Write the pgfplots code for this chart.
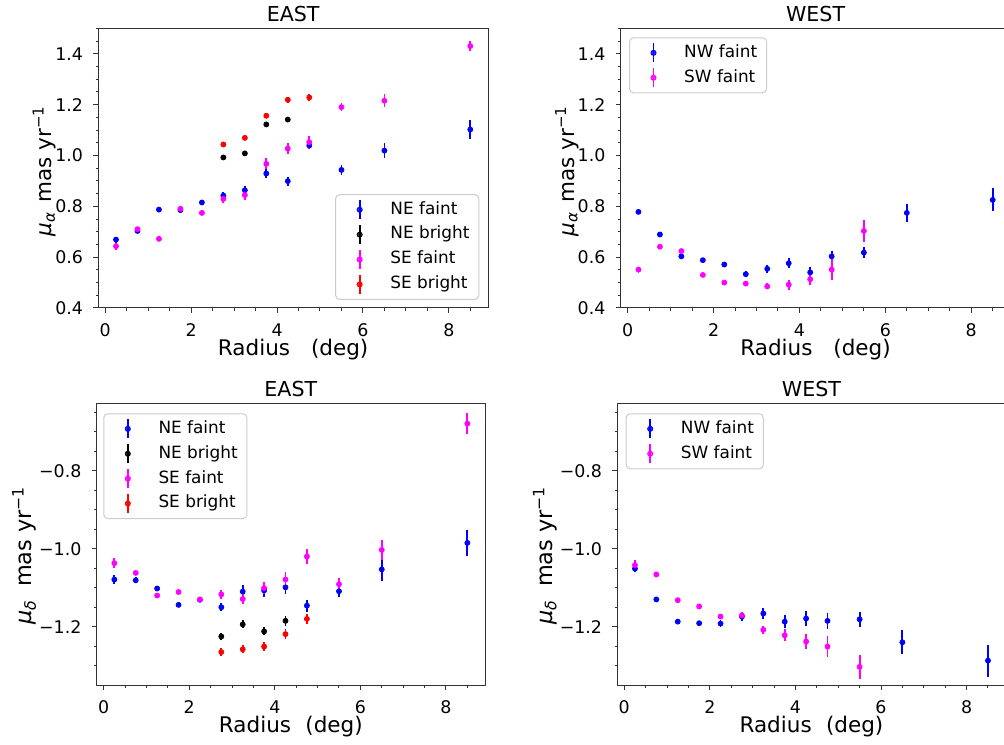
\documentclass[border=0pt]{standalone}
\usepackage{pgfplots}
\pgfplotsset{compat=1.18}
\usepackage{fontspec}
\setmainfont{DejaVu Sans}
\definecolor{mblue}{RGB}{0,0,255}
\definecolor{mmag}{RGB}{255,0,255}
\definecolor{mred}{RGB}{255,0,0}
\definecolor{mblack}{RGB}{0,0,0}

\pgfplotsset{
  base/.style={
    scale only axis, width=194.85pt, height=139.85pt,
    xmin=-0.1625, xmax=8.9125,
    axis line style={black!80, line width=0.5pt},
    tick align=outside, tick pos=left,
    xtick={0,2,4,6,8}, xticklabels={0,2,4,6,8},
    minor xtick={0.5,1,...,8.5},
    major tick length=2.45pt, minor tick length=1.4pt,
    every tick/.append style={black!80, line width=0.5pt},
    tick label style={font=\fontsize{8.7}{10}\selectfont, inner sep=0pt},
    xticklabel style={anchor=north, yshift=-5.15pt},
    yticklabel style={anchor=east, xshift=-5pt},
    every axis title/.style={font=\fontsize{10.3}{12}\selectfont, at={(0.5,1)}, anchor=base, yshift=3.3pt},
    every axis x label/.style={font=\fontsize{10.75}{12}\selectfont, at={(0.5,0)}, anchor=base, yshift=-23.85pt},
    legend style={draw=black!20, line width=0.5pt, fill=white, fill opacity=0.8, text opacity=1, draw opacity=1,
      rounded corners=2pt, font=\fontsize{8.45}{10}\selectfont, inner xsep=1.85pt, inner ysep=1.3pt, row sep=0pt,
      nodes={inner xsep=2.8pt, inner ysep=2pt, text height=6.4pt, text depth=2.05pt}},
    legend cell align=left,
    legend image code/.code={
      \path (0pt,0pt) (22.2pt,0pt);
      \draw[line width=0.9pt] (9.9pt,-4.8pt) -- (9.9pt,4.8pt);
      \fill (9.9pt,0pt) circle (1.25pt);
    },
  },
  topax/.style={base, height=139.85pt, ymin=0.4, ymax=1.5,
    ytick={0.4,0.6,0.8,1.0,1.2,1.4}, yticklabels={0.4,0.6,0.8,1.0,1.2,1.4},
    minor ytick={0.45,0.5,...,1.5},
    ylabel={\textit{μ}\textsubscript{\textit{α}}\hspace{4.6pt}mas yr\textsuperscript{−1}},
    xlabel={Radius\hspace{10.5pt}(deg)},
    every axis y label/.style={font=\fontsize{10.75}{12}\selectfont, at={(-0.1196,0.49)}, anchor=base, rotate=90},
  },
  botax/.style={base, height=140.85pt, width=194.15pt, ymin=-1.3495, ymax=-0.627,
    ytick={-1.2,-1.0,-0.8}, yticklabels={−1.2,−1.0,−0.8},
    minor ytick={-1.35,-1.3,...,-0.65},
    ylabel={\textit{μ}\textsubscript{\textit{δ}}\hspace{6.5pt}mas yr\textsuperscript{−1}},
    xlabel={Radius\hspace{7.2pt}(deg)},
    every axis y label/.style={font=\fontsize{11.2}{12}\selectfont, at={(-0.1674,0.46)}, anchor=base, rotate=90},
  },
  pts/.style={only marks, mark=*, mark size=1.25pt, color=#1, mark options={draw=none, fill=#1},
    error bars/.cd, y dir=both, y explicit, error mark=none, error bar style={line width=0.9pt, color=#1}},
}

\begin{document}
\begin{tikzpicture}

% ---------------- top left: EAST mu_alpha
\begin{axis}[topax, at={(49.15pt,218pt)}, anchor=south west, title={EAST},
  legend style={at={(1,0)}, anchor=south east, xshift=-4.35pt, yshift=4pt}]
\addplot[pts=mblue] table[x=x,y=y,y error=e] {
x y e
0.25 0.669 0.012
0.75 0.703 0.008
1.25 0.787 0.006
1.75 0.785 0.008
2.25 0.815 0.008
2.75 0.842 0.015
3.25 0.863 0.018
3.75 0.929 0.018
4.25 0.899 0.018
4.75 1.039 0.015
5.5 0.943 0.018
6.5 1.019 0.030
8.5 1.102 0.036
};
\addlegendentry{NE faint}
\addplot[pts=mblack] table[x=x,y=y,y error=e] {
x y e
2.75 0.992 0.010
3.25 1.008 0.010
3.75 1.122 0.010
4.25 1.141 0.010
};
\addlegendentry{NE bright}
\addplot[pts=mmag] table[x=x,y=y,y error=e] {
x y e
0.25 0.643 0.013
0.75 0.710 0.008
1.25 0.672 0.006
1.75 0.790 0.006
2.25 0.774 0.010
2.75 0.829 0.015
3.25 0.844 0.018
3.75 0.967 0.022
4.25 1.027 0.020
4.75 1.052 0.025
5.5 1.190 0.015
6.5 1.215 0.025
8.5 1.430 0.020
};
\addlegendentry{SE faint}
\addplot[pts=mred] table[x=x,y=y,y error=e] {
x y e
2.75 1.043 0.010
3.25 1.069 0.010
3.75 1.156 0.010
4.25 1.219 0.012
4.75 1.228 0.014
};
\addlegendentry{SE bright}
\end{axis}

% ---------------- top right: WEST mu_alpha
\begin{axis}[topax, at={(310.35pt,218pt)}, anchor=south west, title={WEST},
  legend style={at={(0,1)}, anchor=north west, xshift=4.15pt, yshift=-4.5pt}]
\addplot[pts=mblue] table[x=x,y=y,y error=e] {
x y e
0.25 0.778 0.010
0.75 0.689 0.006
1.25 0.603 0.006
1.75 0.588 0.008
2.25 0.571 0.010
2.75 0.533 0.012
3.25 0.554 0.015
3.75 0.576 0.020
4.25 0.540 0.020
4.75 0.603 0.022
5.5 0.618 0.020
6.5 0.774 0.036
8.5 0.825 0.045
};
\addlegendentry{NW faint}
\addplot[pts=mmag] table[x=x,y=y,y error=e] {
x y e
0.25 0.551 0.012
0.75 0.641 0.006
1.25 0.624 0.008
1.75 0.530 0.006
2.25 0.500 0.006
2.75 0.496 0.010
3.25 0.485 0.012
3.75 0.492 0.020
4.25 0.513 0.022
4.75 0.551 0.040
5.5 0.703 0.043
};
\addlegendentry{SW faint}
\end{axis}

% ---------------- bottom left: EAST mu_delta
\begin{axis}[botax, at={(48.35pt,29.5pt)}, anchor=south west, title={EAST},
  legend style={at={(0,1)}, anchor=north west, xshift=3.3pt, yshift=-5pt}]
\addplot[pts=mblue] table[x=x,y=y,y error=e] {
x y e
0.25 -1.079 0.012
0.75 -1.081 0.008
1.25 -1.102 0.006
1.75 -1.144 0.006
2.25 -1.131 0.006
2.75 -1.150 0.010
3.25 -1.110 0.016
3.75 -1.107 0.016
4.25 -1.099 0.016
4.75 -1.146 0.015
5.5 -1.109 0.016
6.5 -1.053 0.030
8.5 -0.985 0.033
};
\addlegendentry{NE faint}
\addplot[pts=mblack] table[x=x,y=y,y error=e] {
x y e
2.75 -1.225 0.010
3.25 -1.194 0.010
3.75 -1.212 0.010
4.25 -1.185 0.012
};
\addlegendentry{NE bright}
\addplot[pts=mmag] table[x=x,y=y,y error=e] {
x y e
0.25 -1.037 0.012
0.75 -1.062 0.006
1.25 -1.120 0.006
1.75 -1.111 0.006
2.25 -1.130 0.006
2.75 -1.117 0.012
3.25 -1.129 0.012
3.75 -1.101 0.016
4.25 -1.079 0.020
4.75 -1.020 0.020
5.5 -1.091 0.016
6.5 -1.003 0.026
8.5 -0.679 0.028
};
\addlegendentry{SE faint}
\addplot[pts=mred] table[x=x,y=y,y error=e] {
x y e
2.75 -1.265 0.010
3.25 -1.258 0.010
3.75 -1.251 0.012
4.25 -1.219 0.012
4.75 -1.180 0.013
};
\addlegendentry{SE bright}
\end{axis}

% ---------------- bottom right: WEST mu_delta
\begin{axis}[botax, at={(308.65pt,29.5pt)}, anchor=south west, title={WEST},
  legend style={at={(0,1)}, anchor=north west, xshift=4.2pt, yshift=-5pt}]
\addplot[pts=mblue] table[x=x,y=y,y error=e] {
x y e
0.25 -1.051 0.008
0.75 -1.130 0.006
1.25 -1.187 0.006
1.75 -1.191 0.006
2.25 -1.192 0.008
2.75 -1.174 0.012
3.25 -1.166 0.015
3.75 -1.187 0.016
4.25 -1.179 0.020
4.75 -1.185 0.020
5.5 -1.181 0.020
6.5 -1.240 0.031
8.5 -1.287 0.041
};
\addlegendentry{NW faint}
\addplot[pts=mmag] table[x=x,y=y,y error=e] {
x y e
0.25 -1.042 0.012
0.75 -1.066 0.006
1.25 -1.132 0.006
1.75 -1.148 0.006
2.25 -1.174 0.006
2.75 -1.171 0.010
3.25 -1.208 0.010
3.75 -1.222 0.015
4.25 -1.238 0.020
4.75 -1.251 0.026
5.5 -1.303 0.031
};
\addlegendentry{SW faint}
\end{axis}

\pgfresetboundingbox
\useasboundingbox (0pt,0pt) rectangle (502pt,372pt);
\end{tikzpicture}
\end{document}
